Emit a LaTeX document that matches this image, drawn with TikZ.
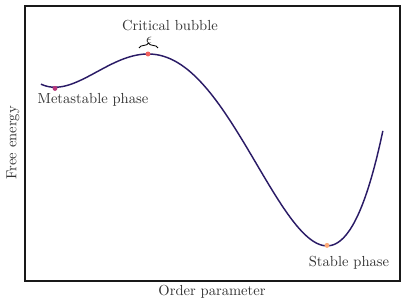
\documentclass[tikz,border=0pt]{standalone}
\usepackage{xcolor}
\usepackage{tikz}
\usetikzlibrary{positioning,calc,decorations.pathreplacing}
\definecolor{ink}{HTML}{333333}
\definecolor{curveink}{HTML}{2A1B66}
\definecolor{magmapurple}{HTML}{B5367A}
\definecolor{magmared}{HTML}{F1605D}
\definecolor{magmaorange}{HTML}{FDAC7A}
\tikzset{
  every node/.style={text=ink},
  frame/.style={draw=black!90,line width=0.8pt},
  energy/.style={draw=curveink,line width=1pt},
  phasedot/.style={circle,inner sep=0pt,minimum size=3.4pt},
  lbl/.style={inner sep=1pt},
  bubblebrace/.style={draw=black,line width=0.6pt,decorate,decoration={brace,amplitude=3.5pt}}
}

\begin{document}
\begin{tikzpicture}[x=0.686pt,y=0.686pt]
  \useasboundingbox (0,0) rectangle (406,306);
  \draw[frame] (25,25) rectangle (400,300);

  % free energy landscape
  \draw[energy] plot[domain=0.41:3.83,samples=160,smooth]
    ({100*\x},{285.62+110*(\x^4/4-1.766667*\x^3+3.72605*\x^2-2.66178*\x)});

  \node[phasedot,fill=magmapurple] (meta) at (55,217.6) {};
  \node[phasedot,fill=magmared] (crit) at (148,252) {};
  \node[phasedot,fill=magmaorange] (stable) at (327,60.6) {};

  \node[lbl] (metalbl) at (93,206) {Metastable phase};
  \node[lbl] (stablelbl) at (349,43) {Stable phase};

  \coordinate (bl) at (139,258);
  \coordinate (br) at (158,258);
  \draw[bubblebrace] (bl) -- (br);
  \node[inner sep=0pt] (eps) at (149,265.5) {$\epsilon$};
  \node[lbl] (critlbl) at (170,280.5) {Critical bubble};

  \node[lbl] (xlabel) at (212,14) {Order parameter};
  \node[lbl,rotate=90] (ylabel) at (13,163) {Free energy};
\end{tikzpicture}
\end{document}
